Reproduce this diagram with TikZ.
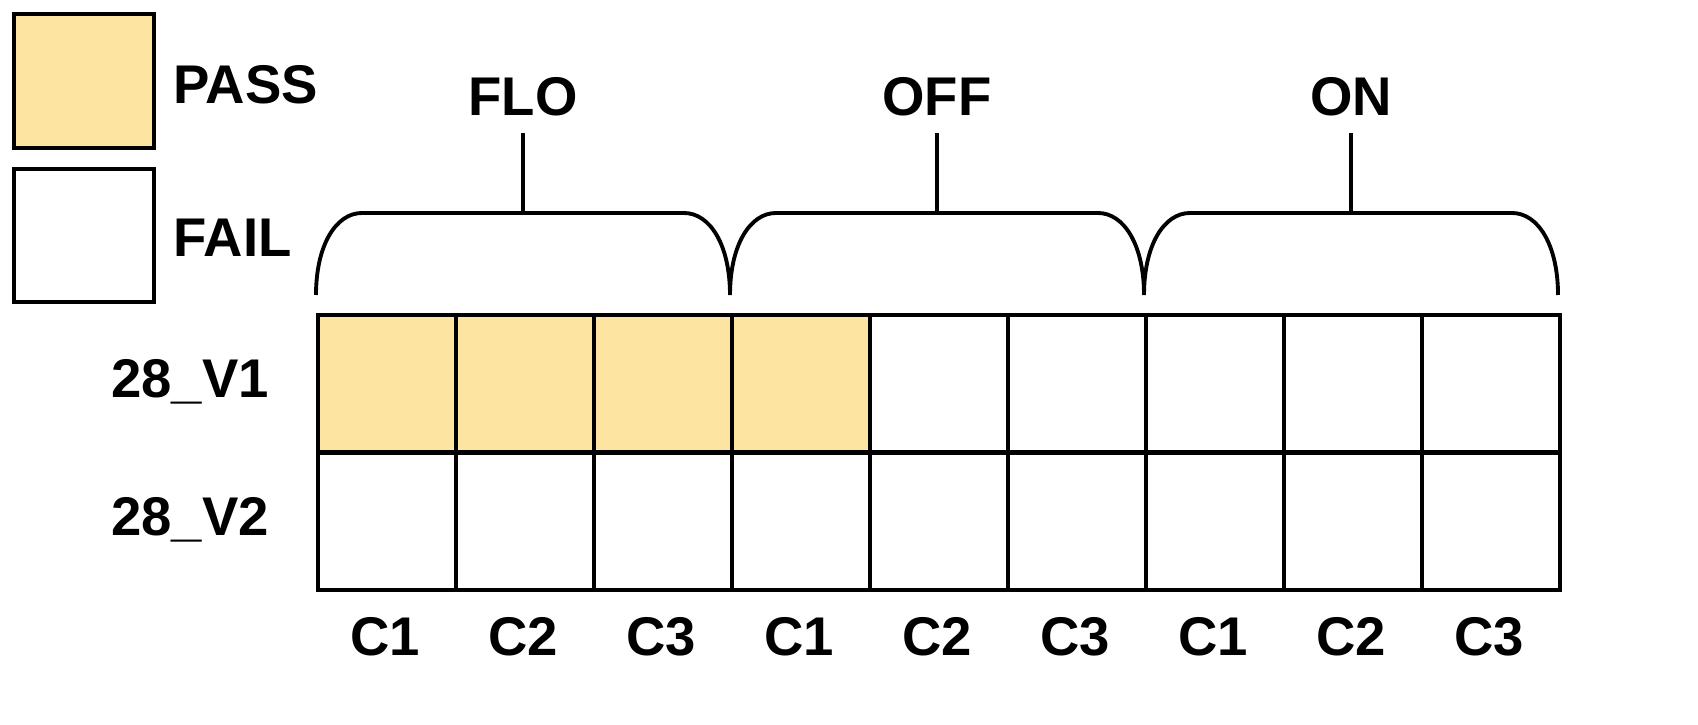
\documentclass[tikz,border=0pt]{standalone}
\usepackage{fontspec}
\setmainfont{Liberation Sans}
\definecolor{passc}{HTML}{FDE4A0}
\begin{document}
\begin{tikzpicture}[x=0.01cm,y=-0.01cm,line width=1.1pt,
  lbl/.style={font=\fontsize{15.5}{18}\selectfont\bfseries},
  cell/.style={draw,minimum width=138*0.01cm,minimum height=137*0.01cm,inner sep=0,anchor=north west}]
\useasboundingbox (0,0) rectangle (1698,725);
% legend
\node[draw,fill=passc,minimum width=140*0.01cm,minimum height=134*0.01cm,anchor=north west] (lp) at (12,12) {};
\node[draw,fill=white,minimum width=140*0.01cm,minimum height=133*0.01cm,anchor=north west] (lf) at (12,167) {};
\node[lbl,anchor=west] (tp) at (160,85) {PASS};
\node[lbl,anchor=west] (tf) at (160,238) {FAIL};
% grid
\foreach \i in {0,...,8}{
  \pgfmathtruncatemacro{\f}{\i<4}
  \ifnum\f=1 \node[cell,fill=passc] (a\i) at (316+138*\i,313) {};
  \else \node[cell] (a\i) at (316+138*\i,313) {};\fi
  \node[cell] (b\i) at (316+138*\i,451) {};
}
\foreach \i/\t in {0/C1,1/C2,2/C3,3/C1,4/C2,5/C3,6/C1,7/C2,8/C3}
  \node[lbl] (c\i) at (385+138*\i,637) {\t};
\node[lbl] (r1) at (190,382) {28\_V1};
\node[lbl] (r2) at (190,520) {28\_V2};
% braces
\foreach \s/\t/\n in {316/FLO/f,730/OFF/o,1144/ON/n}{
  \draw (\s,295) .. controls (\s,245) and (\s+20,213) .. (\s+46,213) -- (\s+368,213)
        .. controls (\s+394,213) and (\s+414,245) .. (\s+414,295);
  \coordinate (\n top) at (\s+207,133);
  \draw (\s+207,213) -- (\n top);
  \node[lbl] (\n) at (\s+207,97) {\t};
}
\end{tikzpicture}
\end{document}
